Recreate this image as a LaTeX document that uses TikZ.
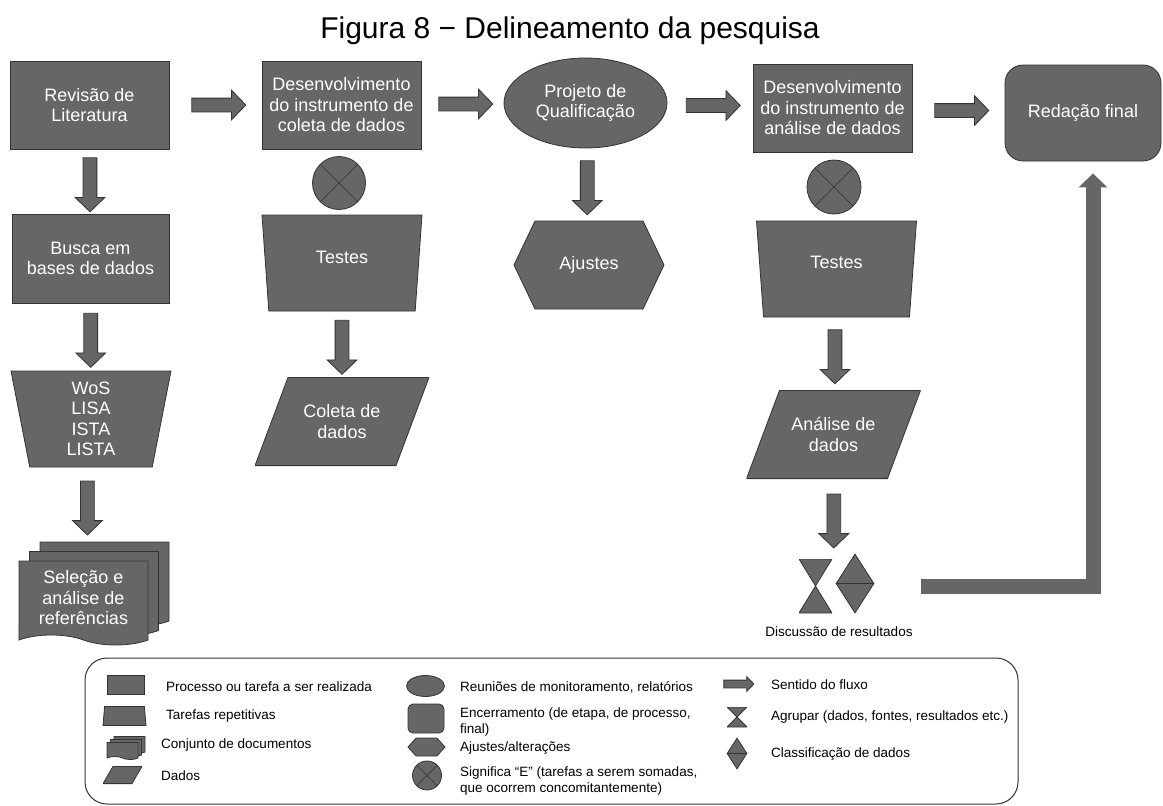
\documentclass[tikz,border=0pt]{standalone}
\usepackage{fontspec}
\setmainfont{Liberation Sans}
\usetikzlibrary{shapes.geometric,shapes.symbols,shapes.arrows,shadows,arrows.meta}
\pgfdeclarelayer{nodelayer}
\pgfdeclarelayer{edgelayer}
\pgfsetlayers{edgelayer,nodelayer,main}
\definecolor{boxgray}{HTML}{666666}
\definecolor{edgegray}{HTML}{333333}
\tikzset{data slant/.store in=\dataslant, data slant=33pt}
\tikzstyle{shape base}=[fill=boxgray, draw=edgegray, line width=0.8pt, text=white, align=center, inner sep=2pt, font=\fontsize{18}{20.5}\selectfont]
\tikzstyle{box}=[shape base, rectangle, minimum width=159pt, minimum height=88pt]
\tikzstyle{end box}=[shape base, rectangle, rounded corners=18pt, minimum width=156pt, minimum height=96pt]
\tikzstyle{meeting}=[shape base, ellipse, inner sep=0pt, minimum width=163pt, minimum height=90pt]
\tikzstyle{repeat task}=[shape base, trapezium, shape border rotate=180, trapezium angle=76.5, trapezium stretches body, minimum width=160pt, minimum height=96pt]
\tikzstyle{data shape}=[shape base, draw=none, fill=none, rectangle, data slant=33pt, minimum width=174pt, minimum height=89pt, path picture={\filldraw[fill=boxgray, draw=edgegray, line width=0.8pt] ([xshift=\dataslant, yshift=-0.4pt]path picture bounding box.north west) -- ([yshift=-0.4pt]path picture bounding box.north east) -- ([xshift=-\dataslant, yshift=0.4pt]path picture bounding box.south east) -- ([yshift=0.4pt]path picture bounding box.south west) -- cycle;}]
\tikzstyle{adjust shape}=[shape base, signal, signal to=west and east, signal pointer angle=129, minimum width=150pt, minimum height=88pt]
\tikzstyle{and circle}=[shape base, circle, inner sep=0pt, minimum size=53pt, path picture={\draw[edgegray, line width=0.6pt] (path picture bounding box.south west) -- (path picture bounding box.north east) (path picture bounding box.north west) -- (path picture bounding box.south east);}]
\tikzstyle{doc page}=[shape base, tape, tape bend top=none, tape bend bottom=out and in, tape bend height=10pt, minimum width=129pt, minimum height=84pt]
\tikzstyle{documents}=[doc page, double copy shadow={shadow xshift=10.5pt, shadow yshift=9.5pt}]
\tikzstyle{group shape}=[inner sep=0pt, minimum width=33pt, minimum height=54pt, path picture={\filldraw[fill=boxgray, draw=edgegray, line width=0.8pt] (path picture bounding box.north west) -- (path picture bounding box.north east) -- (path picture bounding box.south west) -- (path picture bounding box.south east) -- cycle;}]
\tikzstyle{sort shape}=[shape base, diamond, inner sep=0pt, minimum width=38pt, minimum height=59pt, path picture={\draw[edgegray, line width=0.8pt] (path picture bounding box.west) -- (path picture bounding box.east);}]
\tikzstyle{flow arrow}=[single arrow, fill=boxgray, draw=edgegray, line width=0.8pt, inner sep=0pt, text width=0pt, text height=6.5pt, text depth=6.5pt, minimum height=54pt, single arrow head extend=8pt, single arrow tip angle=92]
\tikzstyle{flow right}=[flow arrow]
\tikzstyle{flow down}=[flow arrow, rotate=-90]
\tikzstyle{return edge}=[draw=boxgray, line width=15pt, -{Triangle[length=14pt, width=28pt]}, shorten >=12pt]
\tikzstyle{legend frame}=[draw=edgegray, line width=1pt, rounded corners=22pt]
\tikzstyle{legend text}=[anchor=west, align=left, inner sep=0pt, font=\fontsize{13.5}{16}\selectfont]

\begin{document}
\begin{tikzpicture}[x=1pt, y=-1pt]
	\useasboundingbox (0,0) rectangle (1163,806);
	\begin{pgfonlayer}{nodelayer}
		\node (title) at (570,31) {\fontsize{30}{34}\selectfont Figura 8 − Delineamento da pesquisa};
		% top row
		\node [style=box] (0) at (89.5,105) {Revisão de\\Literatura};
		\node [style=box] (1) at (341.5,105) {Desenvolvimento\\do instrumento de\\coleta de dados};
		\node [style=meeting] (2) at (585.5,103) {Projeto de\\Qualificação};
		\node [style=box] (3) at (832.5,108) {Desenvolvimento\\do instrumento de\\análise de dados};
		\node [style=end box] (4) at (1083,113) {Redação final};
		% first column
		\node [style=box, minimum width=157pt, minimum height=89pt] (5) at (90.5,258.5) {Busca em\\bases de dados};
		\node [style=repeat task] (6) at (91,419) {WoS\\LISA\\ISTA\\LISTA};
		\node [style=documents] (7) at (83.5,598) {Seleção e\\análise de\\referências};
		% second column
		\node [style=and circle] (8) at (339,183) {};
		\node [style=repeat task] (9) at (342,263) {\raisebox{12pt}{Testes}};
		\node [style=data shape] (10) at (342,421.5) {Coleta de\\dados};
		% third column
		\node [style=adjust shape] (11) at (589,265) {Ajustes};
		% fourth column
		\node [style=and circle, minimum size=54pt] (12) at (834,187) {};
		\node [style=repeat task] (13) at (836.5,269) {\raisebox{13pt}{Testes}};
		\node [style=data shape] (14) at (833.5,434.5) {Análise de\\dados};
		\node [style=group shape] (15) at (815.5,586) {};
		\node [style=sort shape] (16) at (855,583.5) {};
		\node [style=legend text, anchor=center] (17) at (839,632) {Discussão de resultados};
		\coordinate (18) at (834,556);
		\coordinate (19) at (921,586);
		% legend
		\draw [style=legend frame] (85,658) rectangle (1018,804);
		\node [style=box, minimum width=37pt, minimum height=19pt] (20) at (125.5,685) {};
		\node [style=repeat task, shape border rotate=0, trapezium angle=68, minimum width=43pt, minimum height=19pt] (21) at (124.5,716) {};
		\node [style=doc page, minimum width=31pt, minimum height=17pt, tape bend height=3pt, double copy shadow={shadow xshift=3.5pt, shadow yshift=3pt}] (22) at (122.5,749.5) {};
		\node [style=data shape, data slant=10pt, minimum width=39pt, minimum height=18pt] (23) at (122.5,775) {};
		\node [style=legend text] (24) at (166,687) {Processo ou tarefa a ser realizada};
		\node [style=legend text] (25) at (166,716) {Tarefas repetitivas};
		\node [style=legend text] (26) at (161,745) {Conjunto de documentos};
		\node [style=legend text] (27) at (161,776) {Dados};
		\node [style=meeting, minimum width=38pt, minimum height=21pt] (28) at (425.5,686) {};
		\node [style=end box, rounded corners=5pt, minimum width=36pt, minimum height=29pt] (29) at (426,718.5) {};
		\node [style=adjust shape, signal pointer angle=96, minimum width=37pt, minimum height=18pt] (30) at (426.5,747) {};
		\node [style=and circle, minimum size=29pt] (31) at (427,775.5) {};
		\node [style=legend text] (32) at (460,687) {Reuniões de monitoramento, relatórios};
		\node [style=legend text] (33) at (460,722) {Encerramento (de etapa, de processo,\\final)};
		\node [style=legend text] (34) at (460,748) {Ajustes/alterações};
		\node [style=legend text] (35) at (460,781.5) {Significa “E” (tarefas a serem somadas,\\que ocorrem concomitantemente)};
		\node [style=flow arrow, minimum height=30pt, text height=3.5pt, text depth=3.5pt, single arrow head extend=3.5pt] (36) at (737,684) {};
		\node [style=group shape, minimum width=20pt, minimum height=20pt] (37) at (737,717) {};
		\node [style=sort shape, minimum width=20pt, minimum height=31pt] (38) at (737,753.5) {};
		\node [style=legend text] (39) at (771,685) {Sentido do fluxo};
		\node [style=legend text] (40) at (771,717) {Agrupar (dados, fontes, resultados etc.)};
		\node [style=legend text] (41) at (771,754) {Classificação de dados};
	\end{pgfonlayer}
	\begin{pgfonlayer}{edgelayer}
		\path (0) to node [style=flow right] {} (1);
		\path (1) to node [style=flow right] {} (2);
		\path (2) to node [style=flow right] {} (3);
		\path (3) to node [style=flow right] {} (4);
		\path (0) to node [style=flow down] {} (5);
		\path (5) to node [style=flow down] {} (6);
		\path (6) to node [style=flow down, pos=0.4] {} (7);
		\path (9) to node [style=flow down] {} (10);
		\path (2) to node [style=flow down] {} (11);
		\path (13) to node [style=flow down] {} (14);
		\path (14) to node [style=flow down] {} (18);
		\draw [style=return edge] (19) -| ([xshift=10pt]4.south);
	\end{pgfonlayer}
\end{tikzpicture}
\end{document}
